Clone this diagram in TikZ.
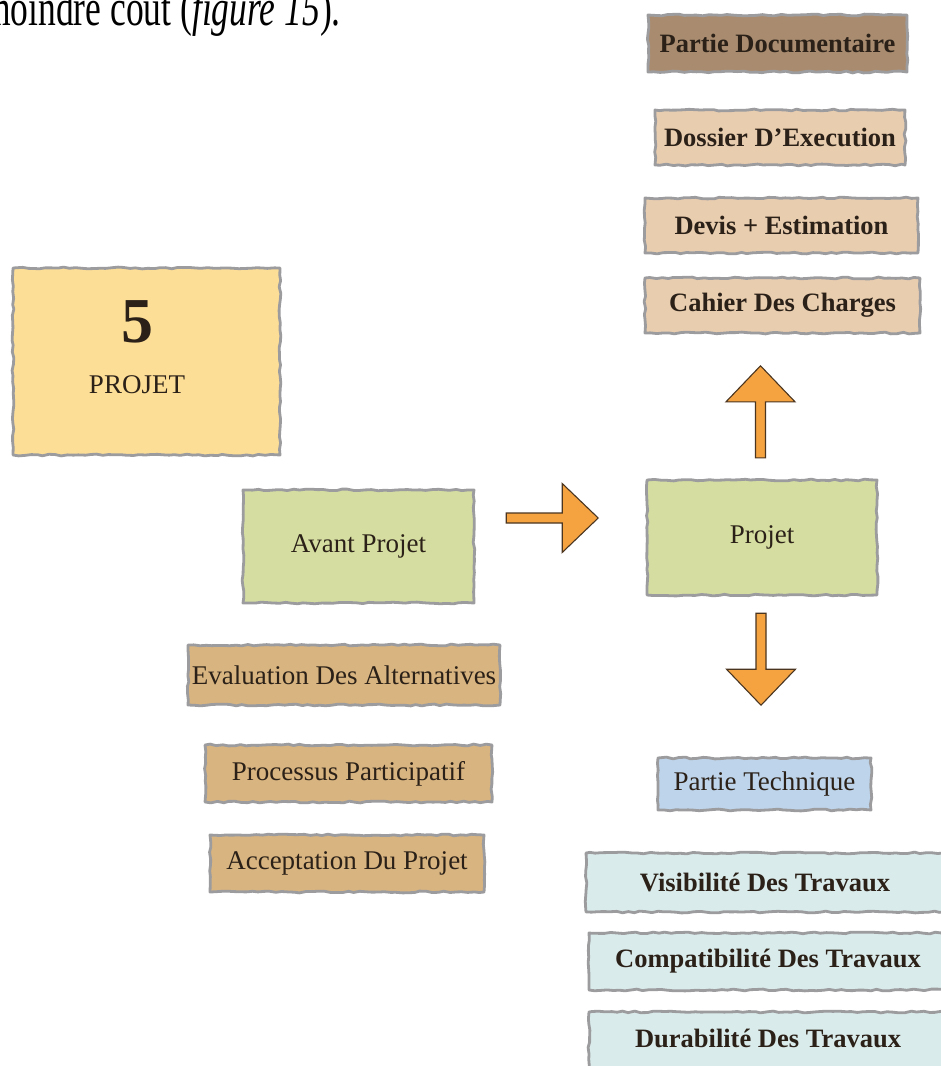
\documentclass[tikz,border=0pt]{standalone}
\usepackage{fontspec}
\setmainfont{Liberation Serif}
\usetikzlibrary{decorations.pathmorphing,calc}

\definecolor{inkdark}{HTML}{2B2118}
\definecolor{brushgrey}{HTML}{9C9C9F}
\definecolor{docbrown}{HTML}{A98C70}
\definecolor{peach}{HTML}{E9CDAF}
\definecolor{paleyellow}{HTML}{FDDE96}
\definecolor{olivegreen}{HTML}{D5DEA0}
\definecolor{tan}{HTML}{D8B480}
\definecolor{skyblue}{HTML}{BED4EA}
\definecolor{paleblue}{HTML}{DAEBEB}
\definecolor{arroworange}{HTML}{F5A341}
\definecolor{arrowedge}{HTML}{4A3520}

\tikzset{
  x=1pt, y=-1pt,
  rough/.style={fill=#1, draw=none,
    postaction={draw=brushgrey, line width=2.8pt, line join=round,
      decorate, decoration={random steps, segment length=6pt, amplitude=0.9pt}}},
  box/.style={rectangle, inner sep=0pt, text=inkdark,
    font=\fontsize{27}{32}\selectfont},
  boldbox/.style={box, font=\fontsize{26.5}{32}\selectfont\bfseries},
  arrowbody/.style={fill=arroworange, draw=arrowedge, line width=1.1pt, line join=miter},
  blockarrow/.pic={
    \path[arrowbody] (0,-5) -- (56,-5) -- (56,-34.5) -- (92,0)
      -- (56,34.5) -- (56,5) -- (0,5) -- cycle;
  },
}

\begin{document}
\begin{tikzpicture}
\pgfmathsetseed{7}
\useasboundingbox (0,0) rectangle (941,1066);
\clip (0,0) rectangle (941,1066);
\fill[white] (0,0) rectangle (941,1066);

% running text of the page above the figure
\node[anchor=base east, inner sep=0pt, text=black, yscale=1.45,
      font=\fontsize{35.5}{40}\selectfont] (caption) at (341,25)
  {moindre coût (\textit{figure 15}).};

% documentary part
\node[boldbox, rough=docbrown, minimum width=259pt, minimum height=57pt] (pdoc) at (777.5,43.5) {Partie Documentaire};
\node[boldbox, rough=peach, minimum width=250pt, minimum height=55pt] (dossier) at (780,137.5) {Dossier D'Execution};
\node[boldbox, rough=peach, minimum width=273pt, minimum height=55pt] (devis) at (781.5,225.5) {Devis + Estimation};
\node[boldbox, rough=peach, minimum width=275pt, minimum height=55pt] (cahier) at (782.5,305.5) {Cahier Des Charges};

% title card
\node[box, rough=paleyellow, minimum width=267pt, minimum height=187pt] (card) at (146.5,361.5) {};
\node[box, font=\fontsize{64}{64}\selectfont\bfseries] (num) at (137,322) {5};
\node[box] (cardlabel) at (137,385) {PROJET};

% phases
\node[box, rough=olivegreen, minimum width=231pt, minimum height=113pt] (avant) at (358.5,546.5) {\raisebox{-3pt}{Avant Projet}};
\node[box, rough=olivegreen, minimum width=230pt, minimum height=115pt] (projet) at (762,537.5) {Projet};

% preliminary steps
\node[box, rough=tan, minimum width=312pt, minimum height=60pt] (eval) at (344,675) {Evaluation Des Alternatives};
\node[box, rough=tan, minimum width=287pt, minimum height=57pt] (proc) at (348.5,773.5) {Processus Participatif};
\node[box, rough=tan, minimum width=274pt, minimum height=57pt] (accept) at (347,863.5) {Acceptation Du Projet};

% technical part
\node[box, rough=skyblue, minimum width=213pt, minimum height=52pt] (ptech) at (764.5,784) {Partie Technique};
\node[boldbox, rough=paleblue, minimum width=358pt, minimum height=59pt] (visib) at (765,882.5) {Visibilité Des Travaux};
\node[boldbox, rough=paleblue, minimum width=358pt, minimum height=57pt] (compat) at (768,961.5) {Compatibilité Des Travaux};
\node[boldbox, rough=paleblue, minimum width=358pt, minimum height=63pt] (durab) at (768,1043.5) {\raisebox{10pt}{Durabilité Des Travaux}};

% block arrows leading out of the phases
\pic at ($(avant.east)+(32,-28.5)$) {blockarrow};
\pic[rotate=90] at ($(projet.north)+(-1.5,-22)$) {blockarrow};
\pic[rotate=-90] at ($(projet.south)+(-1,18)$) {blockarrow};
\end{tikzpicture}
\end{document}
